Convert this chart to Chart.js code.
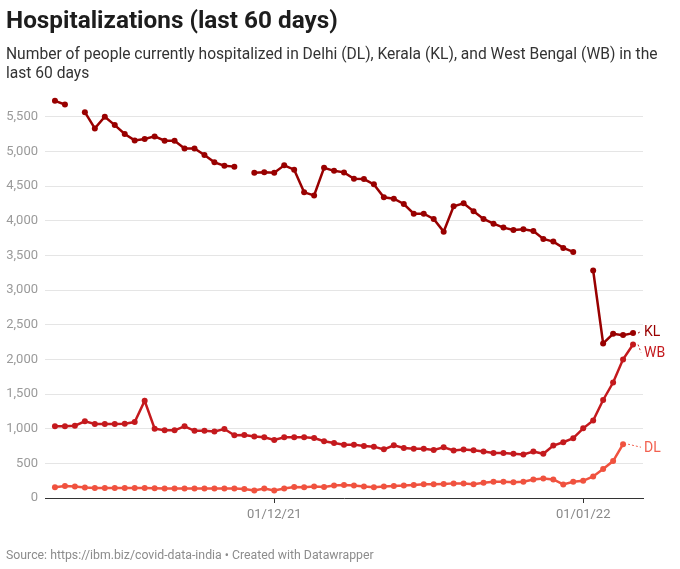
<!DOCTYPE html>
<html>
<head>
<meta charset="utf-8">
<script src="https://cdn.jsdelivr.net/npm/chart.js@4"></script>
<style>
  html, body { margin: 0; padding: 0; background: #fff; }
  body { width: 680px; height: 569px; position: relative; overflow: hidden; font-family: Roboto, sans-serif; }
  #title { position: absolute; left: 6px; top: 5px; font-size: 24.3px; font-weight: 700; line-height: 29px; color: #1d1d1d; white-space: nowrap; }
  #subtitle { position: absolute; left: 6px; top: 45px; width: 674px; font-size: 15.6px; line-height: 19px; color: #333; white-space: nowrap; }
  #footer { position: absolute; left: 6px; top: 547px; font-size: 12.3px; line-height: 16px; color: #8c8c8c; white-space: nowrap; }
  #chart-wrap { position: absolute; left: 0; top: 0; width: 680px; height: 569px; }
</style>
</head>
<body>
<div id="chart-wrap"><canvas id="hosp-chart"></canvas></div>
<div id="title">Hospitalizations (last 60 days)</div>
<div id="subtitle">Number of people currently hospitalized in Delhi (DL), Kerala (KL), and West Bengal (WB) in the<br>last 60 days</div>
<div id="footer">Source: https://ibm.biz/covid-data-india • Created with Datawrapper</div>
<script>
// Dates (09/11/21 - 06/01/22)
const dates = [
    '09/11/21', '10/11/21', '11/11/21', '12/11/21', '13/11/21', '14/11/21', '15/11/21', '16/11/21', '17/11/21', '18/11/21',
    '19/11/21', '20/11/21', '21/11/21', '22/11/21', '23/11/21', '24/11/21', '25/11/21', '26/11/21', '27/11/21', '28/11/21',
    '29/11/21', '30/11/21', '01/12/21', '02/12/21', '03/12/21', '04/12/21', '05/12/21', '06/12/21', '07/12/21', '08/12/21',
    '09/12/21', '10/12/21', '11/12/21', '12/12/21', '13/12/21', '14/12/21', '15/12/21', '16/12/21', '17/12/21', '18/12/21',
    '19/12/21', '20/12/21', '21/12/21', '22/12/21', '23/12/21', '24/12/21', '25/12/21', '26/12/21', '27/12/21', '28/12/21',
    '29/12/21', '30/12/21', '31/12/21', '01/01/22', '02/01/22', '03/01/22', '04/01/22', '05/01/22', '06/01/22'
];

// Kerala (null = no report that day)
const klValues = [
    5730, 5677, null, 5567, 5332, 5500, 5380, 5251, 5159, 5179,
    5217, 5155, 5155, 5044, 5044, 4948, 4843, 4795, 4781, null,
    4694, 4699, 4694, 4800, 4737, 4410, 4365, 4765, 4720, 4698,
    4606, 4602, 4525, 4338, 4318, 4242, 4102, 4102, 4026, 3843,
    4208, 4251, 4136, 4026, 3958, 3901, 3867, 3877, 3853, 3738,
    3699, 3608, 3550, null, 3282, 2230, 2370, 2350, 2379
];

// West Bengal
const wbValues = [
    1034, 1034, 1043, 1106, 1067, 1067, 1067, 1072, 1096, 1403,
    1000, 976, 976, 1034, 970, 970, 960, 995, 904, 910,
    888, 875, 837, 875, 875, 875, 866, 818, 794, 770,
    770, 750, 741, 702, 760, 722, 712, 712, 693, 731,
    685, 700, 690, 671, 648, 648, 638, 629, 671, 638,
    757, 805, 862, 1005, 1119, 1414, 1666, 2000, 2214
];

// Delhi
const dlValues = [
    155, 174, 165, 150, 146, 146, 146, 146, 146, 146,
    141, 136, 136, 136, 136, 136, 136, 136, 136, 131,
    107, 136, 107, 136, 160, 155, 165, 160, 179, 189,
    179, 165, 155, 165, 174, 179, 189, 198, 198, 203,
    211, 210, 200, 219, 234, 234, 229, 234, 267, 281,
    267, 196, 234, 248, 310, 419, 533, 776, null
];

const seriesNames = ['KL', 'WB', 'DL'];
const seriesColors = ['#990000', '#c4191d', '#f0523f'];
const labelColors = ['#990000', '#c4191d', '#f26150'];

const xTickDates = ['01/12/21', '01/01/22'];
const yTicks = [0, 500, 1000, 1500, 2000, 2500, 3000, 3500, 4000, 4500, 5000, 5500];

function toPoints(values) {
    return values.map((v, i) => ({ x: i, y: v }));
}

// Series labels at the end of each line, with small dotted connectors
const endLabels = {
    id: 'endLabels',
    afterDatasetsDraw(chart) {
        const ctx = chart.ctx;
        const xScale = chart.scales.x;
        const yScale = chart.scales.y;
        const items = chart.data.datasets.map((ds, k) => {
            let i = ds.data.length - 1;
            while (i >= 0 && ds.data[i].y == null) i--;
            const px = xScale.getPixelForValue(i);
            const py = yScale.getPixelForValue(ds.data[i].y);
            return { k, px, py, ly: py };
        });
        // spread labels that are too close
        items.sort((a, b) => a.py - b.py);
        for (let n = 1; n < items.length; n++) {
            const prev = items[n - 1], cur = items[n];
            const gap = 21;
            if (cur.ly - prev.ly < gap) {
                const push = (gap - (cur.ly - prev.ly)) / 2;
                prev.ly -= push;
                cur.ly += push;
            }
        }
        const lx = chart.chartArea.right + 1;
        ctx.save();
        ctx.font = '14px Roboto, sans-serif';
        ctx.textBaseline = 'middle';
        items.forEach(it => {
            const ty = it.ly + 4;
            ctx.strokeStyle = labelColors[it.k];
            ctx.lineWidth = 1;
            ctx.setLineDash([2, 2]);
            ctx.beginPath();
            ctx.moveTo(it.px + 5, it.py);
            ctx.lineTo(lx - 3, ty - 1);
            ctx.stroke();
            ctx.fillStyle = labelColors[it.k];
            ctx.fillText(seriesNames[it.k], lx, ty);
        });
        ctx.restore();
    }
};

document.addEventListener('DOMContentLoaded', function() {
    const seriesValues = [klValues, wbValues, dlValues];

    new Chart(document.getElementById('hosp-chart'), {
        type: 'line',
        data: {
            datasets: seriesValues.map((values, k) => ({
                label: seriesNames[k],
                data: toPoints(values),
                borderColor: seriesColors[k],
                backgroundColor: seriesColors[k],
                borderWidth: 2.5,
                pointRadius: 3,
                pointBorderWidth: 0,
                pointBackgroundColor: seriesColors[k],
                spanGaps: false,
                tension: 0
            }))
        },
        options: {
            responsive: true,
            maintainAspectRatio: false,
            animation: false,
            layout: {
                padding: { left: 6, right: 37, top: 96, bottom: 41 }
            },
            plugins: {
                legend: { display: false },
                tooltip: { enabled: false }
            },
            scales: {
                x: {
                    type: 'linear',
                    min: -1,
                    max: dates.length,
                    afterBuildTicks: function(scale) {
                        scale.ticks = xTickDates.map(d => ({ value: dates.indexOf(d) }));
                    },
                    afterFit: function(scale) {
                        scale.height = 30;
                    },
                    grid: {
                        drawOnChartArea: false,
                        drawTicks: true,
                        tickLength: 5,
                        color: '#333'
                    },
                    border: { display: true, color: '#333', width: 1 },
                    ticks: {
                        autoSkip: false,
                        maxRotation: 0,
                        padding: 4,
                        color: '#888',
                        font: { family: 'Roboto', size: 13 },
                        callback: function(value) {
                            return dates[value] || '';
                        }
                    }
                },
                y: {
                    min: 0,
                    max: 5800,
                    afterBuildTicks: function(scale) {
                        scale.ticks = yTicks.map(v => ({ value: v }));
                    },
                    afterFit: function(scale) {
                        scale.width = 39;
                    },
                    grid: {
                        color: function(context) {
                            return context.tick && context.tick.value === 0 ? 'transparent' : '#e5e5e5';
                        },
                        lineWidth: 1,
                        drawTicks: false
                    },
                    border: { display: false },
                    ticks: {
                        padding: 7,
                        color: '#9a9a9a',
                        font: { family: 'Roboto', size: 13 },
                        callback: function(value) {
                            return value.toLocaleString('en-US');
                        }
                    }
                }
            }
        },
        plugins: [endLabels]
    });
});
</script>
</body>
</html>
